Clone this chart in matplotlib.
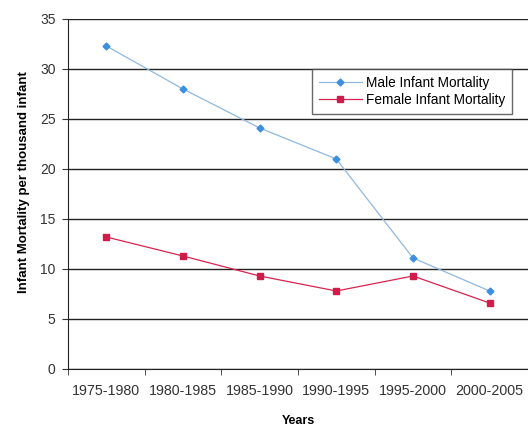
import numpy as np
import matplotlib
matplotlib.use("Agg")
import matplotlib.pyplot as plt

periods = ["1975-1980", "1980-1985", "1985-1990", "1990-1995", "1995-2000", "2000-2005"]
male_mortality = [32.3, 28.0, 24.1, 21.0, 11.1, 7.8]
female_mortality = [13.2, 11.3, 9.3, 7.8, 9.3, 6.6]

plt.rcParams['font.family'] = ['Liberation Sans', 'DejaVu Sans']

fig = plt.figure(figsize=(5.28, 4.32), dpi=100)
ax = fig.add_axes([68 / 528, 63 / 432, 460 / 528, 350 / 432])

x = np.arange(len(periods))
ax.plot(x, male_mortality, color='#8fb8e0', linewidth=0.9, marker='D', markersize=3.5,
        markerfacecolor='#3d8fe0', markeredgecolor='#3d8fe0', label='Male Infant Mortality')
ax.plot(x, female_mortality, color='#d8234f', linewidth=0.9, marker='s', markersize=5,
        markerfacecolor='#d01c4a', markeredgecolor='#d01c4a', label='Female Infant Mortality')

ax.set_xlim(-0.5, len(periods) - 0.5)
ax.set_ylim(0, 35)
ax.set_yticks(range(0, 36, 5))
ax.set_xticks(x)
ax.set_xticklabels(periods)
ax.set_xticks(np.arange(-0.5, len(periods), 1), minor=True)
ax.tick_params(axis='x', which='major', length=0, pad=11, labelsize=10.3, colors='#333333')
ax.tick_params(axis='x', which='minor', length=4, color='#333333')
ax.tick_params(axis='y', length=4, labelsize=10, colors='#333333', direction='out', pad=5)

ax.grid(axis='y', color='#222222', linewidth=1)
ax.set_axisbelow(True)
for side in ['top', 'right']:
    ax.spines[side].set_visible(False)
ax.spines['left'].set_color('#222222')
ax.spines['bottom'].set_color('#222222')

ax.set_xlabel('Years', fontsize=9, fontweight='bold', labelpad=12)
ax.set_ylabel('Infant Mortality per thousand infant', fontsize=9.5, fontweight='bold')
ax.yaxis.set_label_coords(-0.083, 0.535)

leg = ax.legend(loc='upper left', bbox_to_anchor=(0.53, 0.857), fontsize=9.8,
                frameon=True, fancybox=False, edgecolor='#444444', handlelength=3.2,
                handletextpad=0.3, borderpad=0.5, labelspacing=0.25, borderaxespad=0)
leg.get_frame().set_linewidth(1)

fig.savefig('out.png', dpi=100)
